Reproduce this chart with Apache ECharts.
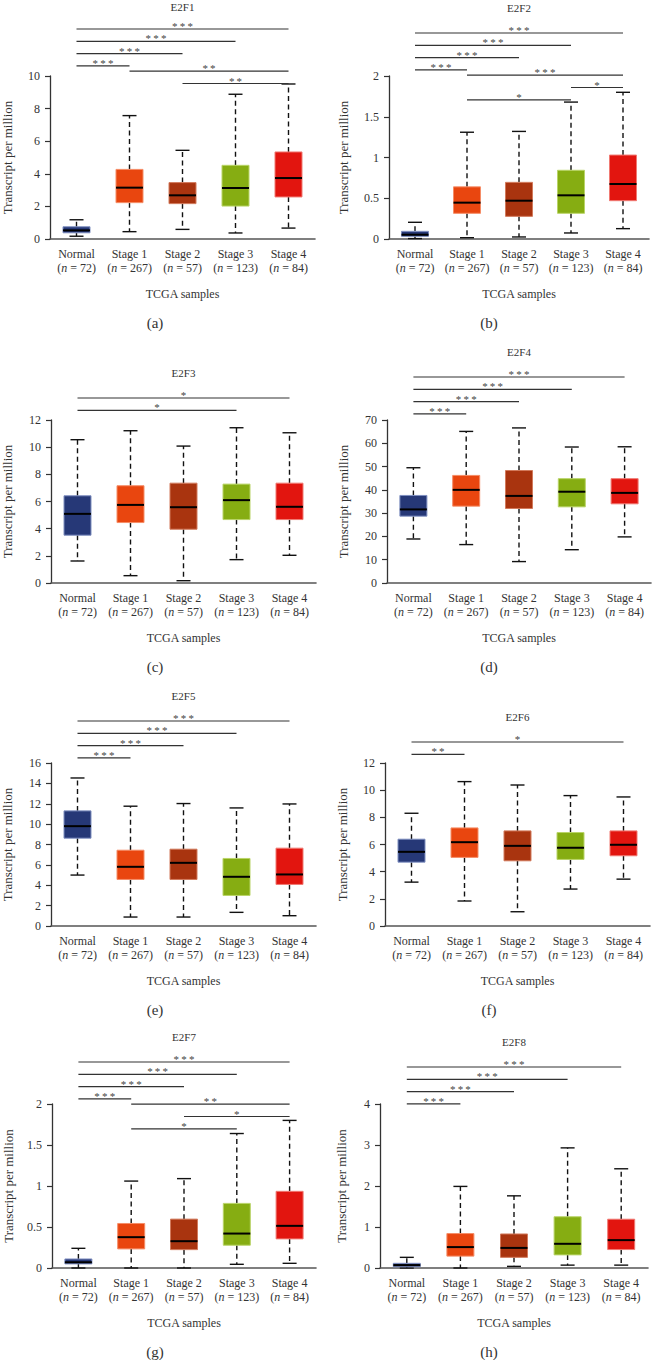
<!DOCTYPE html>
<html>
<head>
<meta charset="utf-8">
<script src="https://cdn.jsdelivr.net/npm/echarts@6/dist/echarts.min.js"></script>
<style>
  html, body { margin: 0; padding: 0; background: #fff; }
  #chart { width: 652px; height: 1360px; }
</style>
</head>
<body>
<div id="chart"></div>
<script>
// ---------------- DATA ----------------
const categories = ['Normal', 'Stage 1', 'Stage 2', 'Stage 3', 'Stage 4'];
const sampleSizes = [72, 267, 57, 123, 84];

// each row: [min, Q1, median, Q3, max]
const E2F1 = [[0.17, 0.38, 0.53, 0.75, 1.18], [0.45, 2.23, 3.15, 4.27, 7.57], [0.59, 2.17, 2.68, 3.46, 5.44], [0.37, 2.02, 3.13, 4.52, 8.88], [0.67, 2.58, 3.74, 5.34, 9.51]];
const E2F2 = [[0.005, 0.033, 0.053, 0.094, 0.205], [0.016, 0.315, 0.446, 0.64, 1.31], [0.025, 0.278, 0.47, 0.695, 1.32], [0.074, 0.315, 0.536, 0.843, 1.68], [0.127, 0.47, 0.675, 1.03, 1.80]];
const E2F3 = [[1.62, 3.52, 5.09, 6.42, 10.55], [0.54, 4.45, 5.75, 7.16, 11.21], [0.17, 3.96, 5.58, 7.35, 10.08], [1.72, 4.67, 6.10, 7.28, 11.43], [2.04, 4.67, 5.61, 7.35, 11.06]];
const E2F4 = [[18.9, 28.7, 31.6, 37.6, 49.5], [16.5, 33.0, 40.0, 46.2, 65.1], [9.2, 32.0, 37.4, 48.3, 66.6], [14.3, 32.7, 39.2, 44.8, 58.4], [19.8, 34.0, 38.7, 44.8, 58.5]];
const E2F5 = [[5.0, 8.62, 9.80, 11.30, 14.53], [0.88, 4.57, 5.81, 7.44, 11.76], [0.88, 4.57, 6.2, 7.54, 12.02], [1.34, 3.0, 4.83, 6.63, 11.59], [1.01, 4.08, 5.06, 7.64, 11.98]];
const E2F6 = [[3.23, 4.70, 5.46, 6.39, 8.30], [1.84, 5.05, 6.17, 7.22, 10.63], [1.05, 4.80, 5.90, 7.0, 10.38], [2.72, 4.90, 5.76, 6.88, 9.60], [3.45, 5.17, 5.98, 7.0, 9.50]];
const E2F7 = [[0.0, 0.05, 0.07, 0.11, 0.24], [0.0, 0.233, 0.376, 0.543, 1.06], [0.0, 0.224, 0.327, 0.596, 1.09], [0.045, 0.278, 0.42, 0.788, 1.64], [0.057, 0.355, 0.514, 0.935, 1.80]];
const E2F8 = [[0.0, 0.03, 0.07, 0.114, 0.26], [0.0, 0.29, 0.51, 0.84, 1.99], [0.04, 0.26, 0.49, 0.83, 1.76], [0.07, 0.32, 0.59, 1.25, 2.93], [0.07, 0.45, 0.68, 1.19, 2.42]];

// significance comparisons: [group A index, group B index, stars]
const E2F1_sig = [[0, 4, '***'], [0, 3, '***'], [0, 2, '***'], [0, 1, '***'], [1, 4, '**'], [2, 4, '**']];
const E2F2_sig = [[0, 4, '***'], [0, 3, '***'], [0, 2, '***'], [0, 1, '***'], [1, 4, '***'], [3, 4, '*'], [1, 3, '*']];
const E2F3_sig = [[0, 4, '*'], [0, 3, '*']];
const E2F4_sig = [[0, 4, '***'], [0, 3, '***'], [0, 2, '***'], [0, 1, '***']];
const E2F5_sig = [[0, 4, '***'], [0, 3, '***'], [0, 2, '***'], [0, 1, '***']];
const E2F6_sig = [[0, 4, '*'], [0, 1, '**']];
const E2F7_sig = [[0, 4, '***'], [0, 3, '***'], [0, 2, '***'], [0, 1, '***'], [1, 4, '**'], [2, 4, '*'], [1, 3, '*']];
const E2F8_sig = [[0, 4, '***'], [0, 3, '***'], [0, 2, '***'], [0, 1, '***']];

// y-axis tick settings
const yMaxes = [10, 2, 12, 70, 16, 12, 2, 4];
const yIntervals = [2, 0.5, 2, 10, 2, 2, 0.5, 1];

const geneNames = ['E2F1', 'E2F2', 'E2F3', 'E2F4', 'E2F5', 'E2F6', 'E2F7', 'E2F8'];
const panelLetters = ['(a)', '(b)', '(c)', '(d)', '(e)', '(f)', '(g)', '(h)'];
const xAxisName = 'TCGA samples';
const yAxisName = 'Transcript per million';

// ---------------- STYLE / LAYOUT ----------------
const groupColors = ['#263877', '#e9460f', '#a9340f', '#86ad12', '#e2150f'];
const groupBorders = ['#7f8fc0', '#f58d67', '#d27a5c', '#b9d468', '#f07a73'];
const FONT = '"Liberation Serif", "Times New Roman", serif';

const panelData = [E2F1, E2F2, E2F3, E2F4, E2F5, E2F6, E2F7, E2F8];
const panelSig = [E2F1_sig, E2F2_sig, E2F3_sig, E2F4_sig, E2F5_sig, E2F6_sig, E2F7_sig, E2F8_sig];

// pixel layout of each panel: plot area, title center, first bracket row
const layout = [
  { l: 50, r: 315, t: 76, b: 239, titleY: 7, bracketY: 29, nameGap: 36, letterX: 155 },
  { l: 389, r: 649, t: 76, b: 239, titleY: 8, bracketY: 33, nameGap: 39, letterX: 489 },
  { l: 51, r: 316, t: 420, b: 583, titleY: 373, bracketY: 398, nameGap: 37, letterX: 155 },
  { l: 387, r: 651, t: 420, b: 583, titleY: 352, bracketY: 377, nameGap: 37, letterX: 489 },
  { l: 51, r: 316, t: 763, b: 926, titleY: 696, bracketY: 721, nameGap: 37, letterX: 155 },
  { l: 385, r: 650, t: 763, b: 926, titleY: 717, bracketY: 742, nameGap: 36, letterX: 489 },
  { l: 52, r: 316, t: 1104, b: 1268, titleY: 1037, bracketY: 1062, nameGap: 37, letterX: 155 },
  { l: 380, r: 648, t: 1104, b: 1268, titleY: 1042, bracketY: 1067, nameGap: 32, letterX: 489 }
];

const BOX_W = 27, CAP_W = 14;

function bracketRows(sig, startY) {
  const ys = [];
  sig.forEach((s, k) => {
    if (k === 0) { ys.push(startY); return; }
    const prev = sig[k - 1];
    const step = (prev[1] === s[0]) ? 5.3 : 12.3;
    ys.push(ys[k - 1] + step);
  });
  return ys;
}

const grids = [], xAxes = [], yAxes = [], series = [], graphics = [];

layout.forEach((L, p) => {
  grids.push({ left: L.l, top: L.t, width: L.r - L.l, height: L.b - L.t, containLabel: false });
  xAxes.push({
    gridIndex: p, type: 'category', data: categories, boundaryGap: true,
    name: xAxisName, nameLocation: 'middle', nameGap: 49,
    nameTextStyle: { fontFamily: FONT, fontSize: 12, color: '#333' },
    axisLine: { show: true, lineStyle: { color: '#555', width: 1.6 } },
    axisTick: { show: false },
    axisLabel: {
      interval: 0, hideOverlap: false, margin: 8, fontFamily: FONT, fontSize: 12, color: '#333', lineHeight: 14,
      formatter: (v, i) => v + '\n{t|(}{i|n}{t| = ' + sampleSizes[i] + ')}',
      rich: {
        t: { fontFamily: FONT, fontSize: 12, color: '#333', lineHeight: 14 },
        i: { fontFamily: FONT, fontSize: 12, color: '#333', fontStyle: 'italic', lineHeight: 14 }
      }
    },
    splitLine: { show: false }
  });
  yAxes.push({
    gridIndex: p, type: 'value', min: 0, max: yMaxes[p], interval: yIntervals[p],
    name: yAxisName, nameLocation: 'middle', nameGap: L.nameGap,
    nameTextStyle: { fontFamily: FONT, fontSize: 13, color: '#333' },
    axisLine: { show: true, lineStyle: { color: '#333', width: 1.3 } },
    axisTick: { show: true, inside: false, length: 5, lineStyle: { color: '#333', width: 1.2 } },
    axisLabel: { fontFamily: FONT, fontSize: 12, color: '#333', margin: 10 },
    splitLine: { show: false }
  });

  // box plots
  series.push({
    type: 'custom', xAxisIndex: p, yAxisIndex: p, clip: false, silent: true,
    data: panelData[p].map((d, i) => [i].concat(d)),
    encode: { x: 0, y: [1, 2, 3, 4, 5] },
    renderItem: function (params, api) {
      const i = api.value(0);
      const lo = api.coord([i, api.value(1)]);
      const q1 = api.coord([i, api.value(2)]);
      const md = api.coord([i, api.value(3)]);
      const q3 = api.coord([i, api.value(4)]);
      const hi = api.coord([i, api.value(5)]);
      const cx = lo[0];
      const dash = { stroke: '#111', lineWidth: 1.4, lineDash: [5, 3.5] };
      const solid = { stroke: '#111', lineWidth: 1.4 };
      return {
        type: 'group',
        children: [
          { type: 'line', shape: { x1: cx, y1: q3[1], x2: cx, y2: hi[1] }, style: dash },
          { type: 'line', shape: { x1: cx, y1: q1[1], x2: cx, y2: lo[1] }, style: dash },
          { type: 'line', shape: { x1: cx - CAP_W / 2, y1: hi[1], x2: cx + CAP_W / 2, y2: hi[1] }, style: solid },
          { type: 'line', shape: { x1: cx - CAP_W / 2, y1: lo[1], x2: cx + CAP_W / 2, y2: lo[1] }, style: solid },
          { type: 'rect', shape: { x: cx - BOX_W / 2, y: q3[1], width: BOX_W, height: q1[1] - q3[1] },
            style: { fill: groupColors[i], stroke: groupBorders[i], lineWidth: 1 } },
          { type: 'line', shape: { x1: cx - BOX_W / 2, y1: md[1], x2: cx + BOX_W / 2, y2: md[1] },
            style: { stroke: '#000', lineWidth: 2 } }
        ]
      };
    }
  });

  // significance brackets
  const sig = panelSig[p];
  const rows = bracketRows(sig, L.bracketY);
  series.push({
    type: 'custom', xAxisIndex: p, yAxisIndex: p, clip: false, silent: true, z: 5,
    data: sig.map(s => [s[0], s[1], 0]),
    encode: { x: [0, 1], y: 2 },
    renderItem: function (params, api) {
      const a = api.coord([api.value(0), 0])[0];
      const b = api.coord([api.value(1), 0])[0];
      const y = rows[params.dataIndex];
      const stars = sig[params.dataIndex][2].split('').join('\u2009');
      return {
        type: 'group',
        children: [
          { type: 'line', shape: { x1: a, y1: y, x2: b, y2: y }, style: { stroke: '#333', lineWidth: 1.2 } },
          { type: 'text', x: (a + b) / 2, y: y - 3,
            style: { text: stars, fill: '#444', font: '11px ' + FONT, align: 'center', verticalAlign: 'middle' } }
        ]
      };
    }
  });

  graphics.push({
    type: 'text', x: (L.l + L.r) / 2, y: L.titleY,
    style: { text: geneNames[p], fill: '#333', font: '11px ' + FONT, align: 'center', verticalAlign: 'middle' }
  });
  graphics.push({
    type: 'text', x: L.letterX, y: L.b + 84,
    style: { text: panelLetters[p], fill: '#333', font: '15px ' + FONT, align: 'center', verticalAlign: 'middle' }
  });
});

const chart = echarts.init(document.getElementById('chart'), null, { renderer: 'svg', width: 652, height: 1360 });
chart.setOption({
  backgroundColor: '#ffffff',
  animation: false,
  grid: grids,
  xAxis: xAxes,
  yAxis: yAxes,
  series: series,
  graphic: graphics
});
</script>
</body>
</html>
